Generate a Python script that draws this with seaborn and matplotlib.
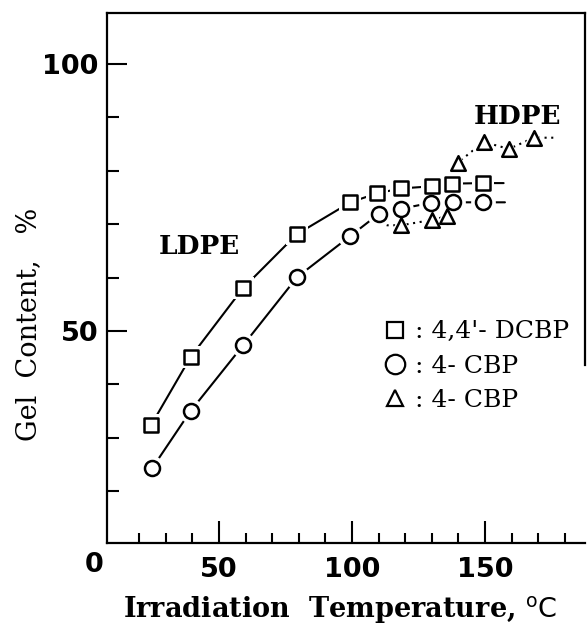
import numpy as np
import pandas as pd
import matplotlib.pyplot as plt
import seaborn as sns
from matplotlib.lines import Line2D
from matplotlib.ticker import FixedLocator

# LDPE + 4,4'-DCBP (squares)
dcbp_temp = [24.5, 39.3, 59.0, 79.2, 99.4, 109.5, 118.5, 130.0, 137.7, 149.4]
dcbp_gel = [32.4, 45.1, 58.0, 68.1, 74.1, 75.8, 76.7, 77.1, 77.6, 77.7]
# LDPE + 4-CBP (circles)
cbp_temp = [25.0, 39.3, 59.2, 79.4, 99.4, 110.0, 118.5, 129.6, 138.1, 149.4]
cbp_gel = [24.4, 35.0, 47.4, 60.1, 67.8, 71.9, 72.9, 74.0, 74.1, 74.1]
# HDPE + 4-CBP (triangles)
hdpe_temp = [118.5, 130.0, 135.7, 139.7, 149.5, 159.0, 168.4]
hdpe_gel = [69.8, 70.8, 71.5, 81.5, 85.4, 84.1, 86.2]

# how far the hand drawn curves run past the points
dcbp_curve_end = 157.0
cbp_curve_end = 157.5
hdpe_curve_start, hdpe_curve_end = 113.0, 177.0

x_major = [50, 100, 150]
x_minor = list(range(20, 190, 10))
y_major = [50, 100]
y_minor = list(range(20, 110, 10))

legend_labels = [": 4,4'- DCBP", ": 4- CBP", ": 4- CBP"]

sns.set_theme(style="white")
plt.rcParams['font.family'] = ['DejaVu Sans']
plt.rcParams['mathtext.fontset'] = 'dejavusans'
plt.rcParams['text.color'] = 'black'
plt.rcParams['axes.labelcolor'] = 'black'
plt.rcParams['xtick.color'] = 'black'
plt.rcParams['ytick.color'] = 'black'

fig = plt.figure(figsize=(5.87, 6.26), dpi=100)
ax = fig.add_axes([0.1823, 0.1326, 0.8143, 0.8466])

curves = [
    (dcbp_temp + [dcbp_curve_end], dcbp_gel + [dcbp_gel[-1]], '-'),
    (cbp_temp + [cbp_curve_end], cbp_gel + [cbp_gel[-1]], '-'),
    ([hdpe_curve_start] + hdpe_temp + [hdpe_curve_end],
     [hdpe_gel[0]] + hdpe_gel + [hdpe_gel[-1]], (0, (1, 2.2))),
]
for cx, cy, ls in curves:
    sns.lineplot(x=cx, y=cy, ax=ax, color='black', linewidth=1.5,
                 linestyle=ls, sort=False, estimator=None, zorder=1)

series = [
    (dcbp_temp, dcbp_gel, 's', 9.4),
    (cbp_temp, cbp_gel, 'o', 10.8),
    (hdpe_temp, hdpe_gel, '^', 10.5),
]
# white halo so the curve stops short of each marker
for sx, sy, mk, ms in series:
    ax.plot(sx, sy, ls='none', marker=mk, ms=ms + 7, mfc='white',
            mec='white', mew=0, zorder=3)
for sx, sy, mk, ms in series:
    sns.scatterplot(x=sx, y=sy, ax=ax, marker=mk, s=ms ** 2,
                    color='white', edgecolor='black', linewidth=1.8, zorder=4)

ax.set_xlim(7.9, 187.6)
ax.set_ylim(10.3, 109.55)

ax.xaxis.set_major_locator(FixedLocator(x_major))
ax.xaxis.set_minor_locator(FixedLocator(x_minor))
ax.yaxis.set_major_locator(FixedLocator(y_major))
ax.yaxis.set_minor_locator(FixedLocator(y_minor))

ax.tick_params(which='both', direction='in', width=1.5, color='black',
               bottom=True, left=True, top=False, right=False)
ax.tick_params(axis='x', which='major', length=15.5, pad=10)
ax.tick_params(axis='x', which='minor', length=7)
ax.tick_params(axis='y', which='major', length=14.5, pad=6)
ax.tick_params(axis='y', which='minor', length=8.5)
for lab in ax.get_xticklabels() + ax.get_yticklabels():
    lab.set_fontweight('bold')
    lab.set_fontsize(19.5)

for side in ['left', 'bottom', 'top', 'right']:
    ax.spines[side].set_color('black')
    ax.spines[side].set_linewidth(1.6)
ax.spines['right'].set_bounds(43.6, 109.55)

fig.text(94 / 587, 1 - 565 / 626, '0', ha='center', va='center',
         fontsize=19.5, fontweight='bold')

ax.set_ylabel('Gel  Content,   %', family='DejaVu Serif', fontsize=19.5)
ax.yaxis.set_label_coords(-0.135, 0.413)
ax.set_xlabel(r'Irradiation  Temperature, $^{\mathrm{o}}\mathrm{C}$',
              family='DejaVu Serif', fontweight='bold', fontsize=19.5)
ax.xaxis.set_label_coords(0.487, -0.097)
ax.xaxis.label.set_verticalalignment('top')

ax.text(42.6, 65.8, 'LDPE', family='DejaVu Serif', fontweight='bold',
        fontsize=19, ha='center', va='center')
ax.text(162.2, 90.1, 'HDPE', family='DejaVu Serif', fontweight='bold',
        fontsize=19, ha='center', va='center')

handles = [
    Line2D([], [], marker='s', ls='none', mfc='white', mec='black', ms=12, mew=1.6),
    Line2D([], [], marker='o', ls='none', mfc='white', mec='black', ms=14, mew=1.6),
    Line2D([], [], marker='^', ls='none', mfc='white', mec='black', ms=12, mew=1.6),
]
ax.legend(handles, legend_labels, loc='upper left', bbox_to_anchor=(0.577, 0.42),
          frameon=False, prop=dict(family='DejaVu Serif', size=18),
          handlelength=1.0, handletextpad=0.3, labelspacing=0.45,
          borderpad=0, borderaxespad=0)

fig.savefig('out.png', dpi=100)
